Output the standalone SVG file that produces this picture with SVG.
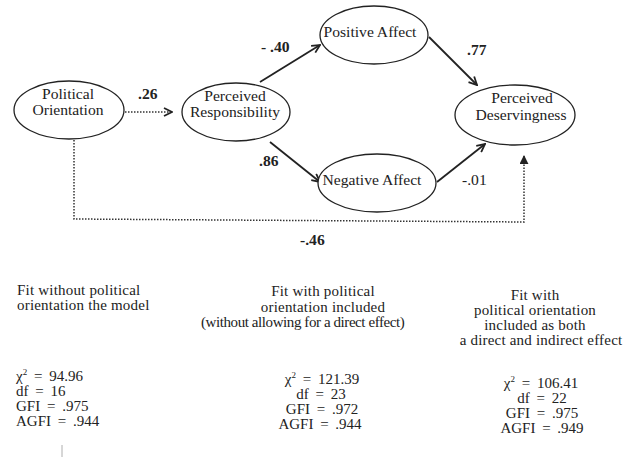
<svg xmlns="http://www.w3.org/2000/svg" width="635" height="459" viewBox="0 0 635 459">
<defs>
<style>
.node{fill:#fff;stroke:#222;stroke-width:1.3}
.t{font-family:"Liberation Serif","Times New Roman",serif;font-size:15.6px;fill:#222}
.f{font-size:15px;letter-spacing:0.2px}
.s{font-size:15px;word-spacing:3px}
.c{text-anchor:middle}
.b{font-weight:bold}
.solid{fill:none;stroke:#222;stroke-width:1.8}
.dot{fill:none;stroke:#333;stroke-width:1.5;stroke-dasharray:1.5 1.5}
</style>
<marker id="open" viewBox="0 0 10 10" refX="9" refY="5" markerWidth="10" markerHeight="10" markerUnits="userSpaceOnUse" orient="auto">
<path d="M1,1 L9,5 L1,9" fill="none" stroke="#222" stroke-width="1.8"/>
</marker>
<marker id="tri" viewBox="0 0 10 10" refX="9" refY="5" markerWidth="9" markerHeight="9" markerUnits="userSpaceOnUse" orient="auto">
<path d="M0,0 L10,5 L0,10 Z" fill="#222"/>
</marker>
</defs>
<rect width="635" height="459" fill="#fff"/>
<g id="connectors">
<line class="dot" x1="125" y1="112" x2="172" y2="112" marker-end="url(#open)"/>
<line class="solid" x1="260" y1="82" x2="320" y2="45" marker-end="url(#open)"/>
<line class="solid" x1="270" y1="142" x2="320" y2="182" marker-end="url(#open)"/>
<line class="solid" x1="429" y1="37" x2="477" y2="85" marker-end="url(#open)"/>
<line class="solid" x1="437" y1="182" x2="485" y2="144" marker-end="url(#open)"/>
<polyline class="dot" points="74,140 74,219 524,222 524,156" marker-end="url(#tri)"/>
<text class="t b" x="138" y="99">.26</text>
<text class="t b" x="261" y="52">- .40</text>
<text class="t b" x="259" y="166">.86</text>
<text class="t b" x="467" y="55">.77</text>
<text class="t" x="462" y="185">-.01</text>
<text class="t b" x="300" y="245">-.46</text>
</g>
<g id="political-orientation">
<ellipse class="node" cx="69" cy="110" rx="55" ry="29"/>
<text class="t c" x="68" y="99">Political</text>
<text class="t c" x="68" y="115">Orientation</text>
</g>
<g id="perceived-responsibility">
<ellipse class="node" cx="236" cy="112" rx="54" ry="29"/>
<text class="t c" x="235" y="101">Perceived</text>
<text class="t c" x="235" y="117">Responsibility</text>
</g>
<g id="positive-affect">
<ellipse class="node" cx="374" cy="35" rx="54" ry="29"/>
<text class="t c" x="370" y="37">Positive Affect</text>
</g>
<g id="negative-affect">
<ellipse class="node" cx="377" cy="183" rx="59" ry="29"/>
<text class="t c" x="372" y="185">Negative Affect</text>
</g>
<g id="perceived-deservingness">
<ellipse class="node" cx="515" cy="115" rx="60" ry="30"/>
<text class="t c" x="522" y="103">Perceived</text>
<text class="t c" x="521" y="120">Deservingness</text>
</g>
<g id="fit-text">
<text class="t f" x="17" y="295">Fit without political</text>
<text class="t f" x="17" y="310">orientation the model</text>
<text class="t s" x="16" y="381">χ<tspan font-size="9" dy="-6">2</tspan><tspan dy="6"> = 94.96</tspan></text>
<text class="t s" x="16" y="396">df = 16</text>
<text class="t s" x="16" y="411">GFI = .975</text>
<text class="t s" x="16" y="426">AGFI = .944</text>
<line x1="62" y1="445" x2="62" y2="457" stroke="#999" stroke-width="0.8"/>

<text class="t f c" x="323" y="296">Fit with political</text>
<text class="t f c" x="323" y="312">orientation included</text>
<text class="t f c" x="303" y="327" textLength="204" lengthAdjust="spacing">(without allowing for a direct effect)</text>
<text class="t c s" x="322" y="384">χ<tspan font-size="9" dy="-6">2</tspan><tspan dy="6"> = 121.39</tspan></text>
<text class="t c s" x="321" y="399">df = 23</text>
<text class="t c s" x="322" y="414">GFI = .972</text>
<text class="t c s" x="320" y="429">AGFI = .944</text>

<text class="t f c" x="535" y="300">Fit with</text>
<text class="t f c" x="535" y="315">political orientation</text>
<text class="t f c" x="535" y="330">included as both</text>
<text class="t f c" x="541" y="345">a direct and indirect effect</text>
<text class="t c s" x="541" y="388">χ<tspan font-size="9" dy="-6">2</tspan><tspan dy="6"> = 106.41</tspan></text>
<text class="t c s" x="542" y="403">df = 22</text>
<text class="t c s" x="542" y="418">GFI = .975</text>
<text class="t c s" x="542" y="433">AGFI = .949</text>
</g>
</svg>
